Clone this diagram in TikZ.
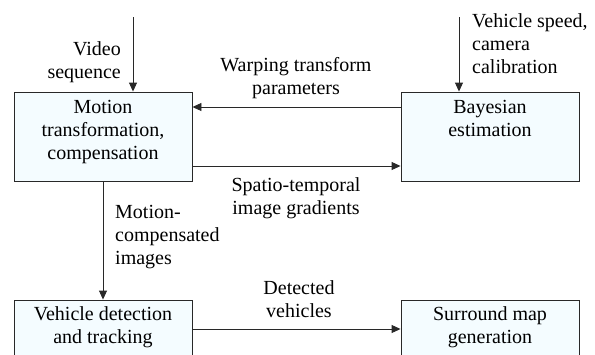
\documentclass[tikz,border=0pt]{standalone}
\usepackage{fontspec}
\setmainfont{Liberation Serif}
\usetikzlibrary{arrows.meta}
\definecolor{boxfill}{RGB}{244,252,255}
\definecolor{boxline}{RGB}{40,40,40}

\begin{document}
\begin{tikzpicture}[x=1pt,y=-1pt,>={Triangle[length=9pt,width=8pt]},
  blk/.style={draw=boxline,line width=0.9pt,fill=boxfill,minimum width=178pt,minimum height=89pt,inner sep=0pt},
  blktxt/.style={anchor=north,align=center,font=\rmfamily\fontsize{20}{23}\selectfont,inner sep=0pt},
  lbl/.style={align=center,font=\rmfamily\fontsize{20}{23}\selectfont,inner sep=0pt},
  flow/.style={->,line width=0.9pt,draw=boxline}]
\useasboundingbox (0,0) rectangle (595,354);
% blocks
\node[blk] (motion) at (103,136.5) {};
\node[blk] (bayes) at (490,136.5) {};
\node[blk] (detect) at (103,344.5) {};
\node[blk] (smap) at (490,344.5) {};
\node[blktxt] (motiontxt) at ([yshift=-9pt]motion.north) {Motion\\transformation,\\compensation};
\node[blktxt] (bayestxt) at ([yshift=-9pt]bayes.north) {Bayesian\\estimation};
\node[blktxt] (detecttxt) at ([yshift=-7pt]detect.north) {Vehicle detection\\and tracking};
\node[blktxt] (smaptxt) at ([yshift=-7pt]smap.north) {Surround map\\generation};
% inputs
\coordinate (vin) at (133,17);
\coordinate (sin) at (459,17);
\draw[flow] (vin) -- (vin |- motion.north);
\draw[flow] (sin) -- (sin |- bayes.north);
\node[lbl,align=right,anchor=east] (vinlbl) at (121,62) {Video\\sequence};
\node[lbl,align=left,anchor=west] (sinlbl) at (472,44) {Vehicle speed,\\camera\\calibration};
% connections
\draw[flow] ([yshift=29.5pt]bayes.west) -- ([yshift=29.5pt]motion.east);
\draw[flow] ([yshift=-29.5pt]motion.east) -- ([yshift=-29.5pt]bayes.west);
\draw[flow] (motion.south) -- (detect.north);
\draw[flow] ([yshift=15.5pt]detect.east) -- ([yshift=15.5pt]smap.west);
\node[lbl] (warplbl) at (296,78) {Warping transform\\parameters};
\node[lbl] (gradlbl) at (296,198) {Spatio-temporal\\image gradients};
\node[lbl,align=left,anchor=west] (mclbl) at (115,237) {Motion-\\compensated\\images};
\node[lbl] (detlbl) at (299,299) {Detected\\vehicles};
\end{tikzpicture}
\end{document}
